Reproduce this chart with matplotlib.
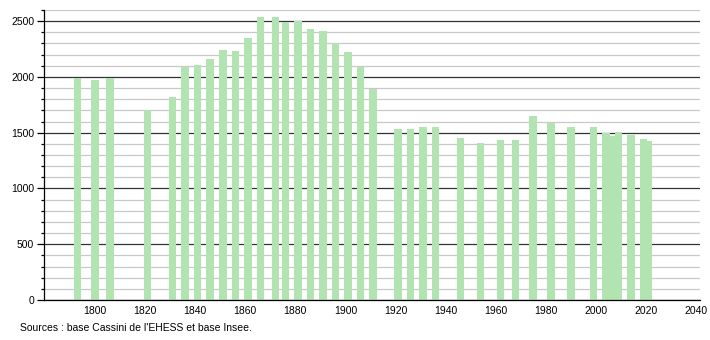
import matplotlib.pyplot as plt
from matplotlib.ticker import MultipleLocator

plt.rcParams['font.family'] = ['Liberation Sans', 'DejaVu Sans']

annees = [1793, 1800, 1806, 1821, 1831, 1836, 1841, 1846, 1851, 1856,
          1861, 1866, 1872, 1876, 1881, 1886, 1891, 1896, 1901, 1906,
          1911, 1921, 1926, 1931, 1936, 1946, 1954, 1962, 1968, 1975,
          1982, 1990, 1999, 2004, 2006, 2009, 2014, 2019, 2021]
population = [1989, 1971, 1989, 1701, 1818, 2088, 2103, 2160, 2241, 2232,
              2349, 2538, 2538, 2493, 2499, 2430, 2412, 2304, 2223, 2088,
              1896, 1530, 1530, 1551, 1551, 1449, 1404, 1431, 1431, 1647,
              1584, 1548, 1548, 1494, 1470, 1509, 1476, 1440, 1425]
x_ticks = list(range(1800, 2041, 20))
source = "Sources : base Cassini de l'EHESS et base Insee."

fig = plt.figure(figsize=(7.1, 3.4), dpi=100)
ax = fig.add_axes([44/710, 40/340, 656/710, 290/340])

ax.bar(annees, population, width=3.0, color='#b2e4b2', zorder=3)

ax.set_xlim(1779.6, 2041.6)
ax.set_ylim(0, 2600)
ax.set_xticks(x_ticks)
ax.yaxis.set_major_locator(MultipleLocator(500))
ax.yaxis.set_minor_locator(MultipleLocator(100))

ax.grid(axis='y', which='minor', color='#c8c8c8', linewidth=0.9, zorder=1)
ax.grid(axis='y', which='major', color='#333333', linewidth=0.9, zorder=2)

for s in ['top', 'right']:
    ax.spines[s].set_visible(False)
ax.spines['left'].set_linewidth(0.9)
ax.spines['bottom'].set_linewidth(0.9)
ax.spines['left'].set_zorder(4)
ax.spines['bottom'].set_zorder(4)

ax.tick_params(axis='x', length=0, labelsize=7.5, pad=4)
ax.tick_params(axis='y', which='major', length=5, width=0.9, labelsize=7.5, pad=2)
ax.tick_params(axis='y', which='minor', length=2.5, width=0.9)

fig.text(20/710, 1 - 328/340, source, fontsize=7.5, va='center', ha='left')

fig.savefig('out.png', dpi=100)
